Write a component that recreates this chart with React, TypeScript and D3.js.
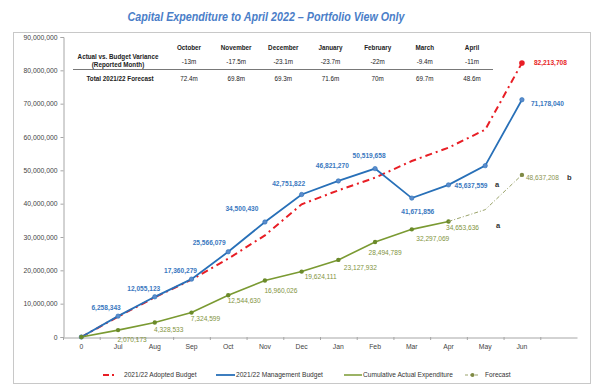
import { useEffect, useRef } from 'react';
import * as d3 from 'd3';

// categories on the x axis (last band is an empty slot)
const months = ["0", "Jul", "Aug", "Sep", "Oct", "Nov", "Dec", "Jan", "Feb", "Mar", "Apr", "May", "Jun"];

const adoptedBudget = [0, 6100000, 11900000, 17200000, 23500000, 30500000, 39800000, 44000000, 47800000, 52800000, 56800000, 62200000, 82213708];
const managementBudget = [0, 6258343, 12055123, 17360279, 25566079, 34500430, 42751822, 46821270, 50519658, 41671856, 45637559, 51400000, 71178040];
const actualSpend = [0, 2070173, 4328533, 7324599, 12544630, 16960026, 19624111, 23127932, 28494789, 32297069, 34653636];
const forecastMonths = ["Apr", "May", "Jun"];
const forecastSpend = [34653636, 38200000, 48637208];

const yTicks = [0, 10000000, 20000000, 30000000, 40000000, 50000000, 60000000, 70000000, 80000000, 90000000];

// summary table
const tableMonths = ["October", "November", "December", "January", "February", "March", "April"];
const varianceRow = ["-13m", "-17.5m", "-23.1m", "-23.7m", "-22m", "-9.4m", "-11m"];
const forecastRow = ["72.4m", "69.8m", "69.3m", "71.6m", "70m", "69.7m", "48.6m"];

// which points carry a value label, and where
const blueLabelIdx = [1, 2, 3, 4, 5, 6, 7, 8, 9, 10, 12];
const greenLabelIdx = [1, 2, 3, 4, 5, 6, 7, 8, 9, 10];

export default function App() {
  const svgRef = useRef<SVGSVGElement>(null);

  useEffect(() => {
    if (!svgRef.current) return;
    d3.select(svgRef.current).selectAll("*").remove();

    const W = 606, H = 390;
    const font = "'Liberation Sans', Arial, sans-serif";
    const svg = d3.select(svgRef.current).attr("viewBox", `0 0 ${W} ${H}`);

    svg.append("rect").attr("width", W).attr("height", H).attr("fill", "#fff");

    // title
    svg.append("text")
      .attr("x", 266).attr("y", 21)
      .attr("text-anchor", "middle")
      .attr("textLength", 277).attr("lengthAdjust", "spacingAndGlyphs")
      .style("font-family", font).style("font-size", "13px")
      .style("font-weight", "bold").style("font-style", "italic")
      .style("fill", "#4a7ec8")
      .text("Capital Expenditure to April 2022 \u2013 Portfolio View Only");

    // chart frame
    svg.append("rect")
      .attr("x", 13.5).attr("y", 32.5).attr("width", 577).attr("height", 351)
      .attr("fill", "none").attr("stroke", "#c8c8c8").attr("stroke-width", 1);

    const xScale = d3.scaleBand<string>()
      .domain([...months, ""])
      .range([63, 577])
      .padding(0);
    const xc = (m: string) => (xScale(m) ?? 0) + xScale.bandwidth() / 2;
    const yScale = d3.scaleLinear().domain([0, 90000000]).range([337, 37]);

    // y axis
    const yAxis = svg.append("g")
      .attr("transform", "translate(63.5,0)")
      .call(d3.axisLeft(yScale).tickValues(yTicks).tickSize(3).tickPadding(3)
        .tickFormat(d => d3.format(",")(d as number)));
    yAxis.select(".domain").attr("stroke", "#a6a6a6");
    yAxis.selectAll(".tick line").attr("stroke", "#a6a6a6");
    yAxis.selectAll(".tick text")
      .style("font-family", font).style("font-size", "6.8px").style("fill", "#444");

    // x axis
    const xAxis = svg.append("g")
      .attr("transform", "translate(0,337.5)")
      .call(d3.axisBottom(xScale).tickSize(0).tickPadding(7));
    xAxis.select(".domain").attr("stroke", "#a6a6a6");
    xAxis.selectAll(".tick text")
      .style("font-family", font).style("font-size", "6.8px").style("fill", "#444");
    svg.append("g")
      .selectAll("line")
      .data([...months, ""])
      .enter().append("line")
      .attr("x1", d => (xScale(d) ?? 0) + 0.5)
      .attr("x2", d => (xScale(d) ?? 0) + 0.5)
      .attr("y1", 337).attr("y2", 340)
      .attr("stroke", "#a6a6a6");

    // summary table
    const tbl = svg.append("g").style("font-family", font).style("font-size", "6.3px").style("fill", "#222");
    tbl.append("text").attr("x", 118).attr("y", 59).attr("text-anchor", "middle")
      .style("font-weight", "bold").text("Actual vs. Budget Variance");
    tbl.append("text").attr("x", 118).attr("y", 67).attr("text-anchor", "middle")
      .style("font-weight", "bold").text("(Reported Month)");
    tbl.append("text").attr("x", 120).attr("y", 81).attr("text-anchor", "middle")
      .style("font-weight", "bold").text("Total 2021/22 Forecast");
    const colX = d3.scalePoint<string>().domain(tableMonths).range([189, 472]);
    tableMonths.forEach((m, i) => {
      tbl.append("text").attr("x", colX(m)!).attr("y", 50).attr("text-anchor", "middle")
        .style("font-weight", "bold").text(m);
      tbl.append("text").attr("x", colX(m)!).attr("y", 64).attr("text-anchor", "middle").text(varianceRow[i]);
      tbl.append("text").attr("x", colX(m)!).attr("y", 81).attr("text-anchor", "middle").text(forecastRow[i]);
    });
    tbl.append("line").attr("x1", 73).attr("x2", 493).attr("y1", 69.5).attr("y2", 69.5)
      .attr("stroke", "#555").attr("stroke-width", 0.8);

    const line = d3.line<[string, number]>().x(d => xc(d[0])).y(d => yScale(d[1]));

    const RED = "#e81e25", BLUE = "#2870b8", GREEN = "#7a9a32", FC = "#9aa36a";

    // adopted budget (dash-dot)
    svg.append("path")
      .datum(months.map((m, i) => [m, adoptedBudget[i]] as [string, number]))
      .attr("d", line).attr("fill", "none")
      .attr("stroke", RED).attr("stroke-width", 2).attr("stroke-dasharray", "7,4,2,4");
    svg.append("circle")
      .attr("cx", xc("Jun")).attr("cy", yScale(adoptedBudget[12])).attr("r", 2.8).attr("fill", RED);

    // management budget
    const mData = months.map((m, i) => [m, managementBudget[i]] as [string, number]);
    svg.append("path").datum(mData).attr("d", line).attr("fill", "none")
      .attr("stroke", BLUE).attr("stroke-width", 1.8);
    svg.append("g").selectAll("circle").data(mData).enter().append("circle")
      .attr("cx", d => xc(d[0])).attr("cy", d => yScale(d[1])).attr("r", 2.2)
      .attr("fill", "#5b8ccc").attr("stroke", BLUE).attr("stroke-width", 0.6);

    // actual expenditure
    const aData = actualSpend.map((v, i) => [months[i], v] as [string, number]);
    svg.append("path").datum(aData).attr("d", line).attr("fill", "none")
      .attr("stroke", GREEN).attr("stroke-width", 1.6);
    svg.append("g").selectAll("circle").data(aData).enter().append("circle")
      .attr("cx", d => xc(d[0])).attr("cy", d => yScale(d[1])).attr("r", 2.2).attr("fill", "#6b8a2a");

    // forecast
    const fData = forecastMonths.map((m, i) => [m, forecastSpend[i]] as [string, number]);
    svg.append("path").datum(fData).attr("d", line).attr("fill", "none")
      .attr("stroke", FC).attr("stroke-width", 1).attr("stroke-dasharray", "4,2,1,2");
    svg.append("circle")
      .attr("cx", xc("Jun")).attr("cy", yScale(forecastSpend[2])).attr("r", 2.2).attr("fill", "#7f8a45");

    // value labels
    const fmt = d3.format(",");
    const lbl = svg.append("g").style("font-family", font).style("font-size", "6.6px");
    const blueDx: Record<number, [number, number, string]> = {
      1: [-12, -6, "middle"], 2: [-11, -6, "middle"], 3: [-11, -6, "middle"], 4: [-19, -7, "middle"],
      5: [-23, -11, "middle"], 6: [-13, -8, "middle"], 7: [-6, -13, "middle"], 8: [-6, -11, "middle"],
      9: [6, 16, "middle"], 10: [6, 3, "start"], 12: [9, 6, "start"],
    };
    blueLabelIdx.forEach(i => {
      const [dx, dy, anchor] = blueDx[i];
      lbl.append("text")
        .attr("x", xc(months[i]) + dx).attr("y", yScale(managementBudget[i]) + dy)
        .attr("text-anchor", anchor).style("fill", "#3a78c0").style("font-weight", "bold")
        .text(fmt(managementBudget[i]));
    });
    lbl.append("text")
      .attr("x", xc("Jun") + 12).attr("y", yScale(adoptedBudget[12]) + 2.5)
      .style("fill", RED).style("font-weight", "bold").text(fmt(adoptedBudget[12]));

    const greenDx: Record<number, [number, number]> = {
      1: [14, 12], 2: [14, 9], 3: [14, 8], 4: [16, 8], 5: [16, 13],
      6: [19, 7], 7: [22, 10], 8: [10, 13], 9: [21, 12], 10: [14, 9],
    };
    greenLabelIdx.forEach(i => {
      const [dx, dy] = greenDx[i];
      lbl.append("text")
        .attr("x", xc(months[i]) + dx).attr("y", yScale(actualSpend[i]) + dy)
        .attr("text-anchor", "middle").style("fill", "#7f9440")
        .text(fmt(actualSpend[i]));
    });
    lbl.append("text")
      .attr("x", xc("Jun") + 4).attr("y", yScale(forecastSpend[2]) + 5)
      .style("fill", "#8a9450").text(fmt(forecastSpend[2]));

    // footnote markers
    const notes = svg.append("g").style("font-family", font).style("font-size", "7.5px")
      .style("font-weight", "bold").style("fill", "#333");
    notes.append("text").attr("x", 495).attr("y", yScale(managementBudget[10]) + 2).text("a");
    notes.append("text").attr("x", 496).attr("y", yScale(actualSpend[10]) + 7).text("a");
    notes.append("text").attr("x", 567).attr("y", yScale(forecastSpend[2]) + 5).text("b");

    // legend
    const lg = svg.append("g").style("font-family", font).style("font-size", "6.6px").style("fill", "#333");
    const ly = 375;
    lg.append("line").attr("x1", 103).attr("x2", 109).attr("y1", ly).attr("y2", ly)
      .attr("stroke", RED).attr("stroke-width", 2);
    lg.append("line").attr("x1", 112).attr("x2", 114).attr("y1", ly).attr("y2", ly)
      .attr("stroke", RED).attr("stroke-width", 2);
    lg.append("text").attr("x", 124).attr("y", ly + 2.3).text("2021/22 Adopted Budget");
    lg.append("line").attr("x1", 216).attr("x2", 235).attr("y1", ly).attr("y2", ly)
      .attr("stroke", BLUE).attr("stroke-width", 1.8);
    lg.append("text").attr("x", 236).attr("y", ly + 2.3).text("2021/22 Management Budget");
    lg.append("line").attr("x1", 344).attr("x2", 362).attr("y1", ly).attr("y2", ly)
      .attr("stroke", GREEN).attr("stroke-width", 1.5);
    lg.append("text").attr("x", 363).attr("y", ly + 2.3).text("Cumulative Actual Expenditure");
    lg.append("line").attr("x1", 465).attr("x2", 480).attr("y1", ly).attr("y2", ly)
      .attr("stroke", FC).attr("stroke-width", 1).attr("stroke-dasharray", "3,2");
    lg.append("circle").attr("cx", 472.5).attr("cy", ly).attr("r", 2).attr("fill", "#7f8a45");
    lg.append("text").attr("x", 485).attr("y", ly + 2.3).text("Forecast");
  }, []);

  return (
    <svg ref={svgRef} width={606} height={390}
      style={{ position: "absolute", left: 0, top: 0, display: "block" }} />
  );
}
